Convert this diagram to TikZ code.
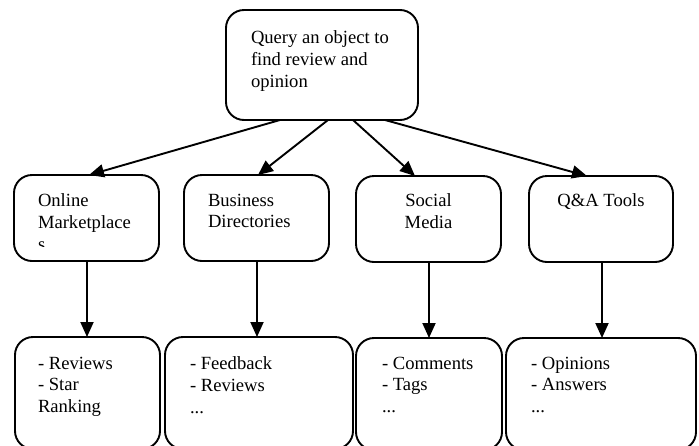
\documentclass[tikz,border=0pt]{standalone}
\usepackage{fontspec}
\setmainfont{Liberation Serif}
\usetikzlibrary{arrows.meta,calc}
\begin{document}
\begin{tikzpicture}[x=1pt,y=-1pt,
  box/.style={draw, line width=1.9pt, rounded corners=18pt, inner sep=0pt, outer sep=0pt, anchor=north west},
  txt/.style={inner sep=0pt, outer sep=0pt, align=left, anchor=north west, font=\fontsize{18.6}{21.6}\selectfont},
  ctxt/.style={txt, align=center, anchor=north},
  conn/.style={line width=1.9pt, -{Triangle[length=15pt,width=13pt]}}]
\useasboundingbox (0,0) rectangle (699,445);
\clip (0,0) rectangle (699,445);
% top
\node[box, minimum width=192pt, minimum height=110pt] (top) at (226,10) {};
\node[txt] (ttop) at (251,31) {Query an object to\\find review and\\opinion};
% middle row
\node[box, minimum width=145pt, minimum height=86pt] (m1) at (14,175) {};
\node[box, minimum width=145pt, minimum height=86pt] (m2) at (184,175) {};
\node[box, minimum width=145pt, minimum height=86pt] (m3) at (356,176) {};
\node[box, minimum width=144pt, minimum height=86pt] (m4) at (529,176) {};
\begin{scope}
\clip (20,180) rectangle (150,246);
\node[txt] (tm1) at (38,194) {Online\\Marketplace\\s};
\end{scope}
\node[txt] (tm2) at (208,194) {Business\\Directories};
\node[ctxt] (tm3) at (428.5,194) {Social\\Media};
\node[ctxt] (tm4) at (601,194) {Q\&A Tools};
% bottom row
\node[box, minimum width=145pt, minimum height=112pt] (b1) at (15,337) {};
\node[box, minimum width=188pt, minimum height=112pt] (b2) at (165,337) {};
\node[box, minimum width=146pt, minimum height=112pt] (b3) at (356,338) {};
\node[box, minimum width=190pt, minimum height=112pt] (b4) at (506,338) {};
\node[txt] (tb1) at (38,357) {- Reviews\\- Star\\Ranking};
\node[txt] (tb2) at (190,357) {- Feedback\\- Reviews\\...};
\node[txt] (tb3) at (382,357) {- Comments\\- Tags\\...};
\node[txt] (tb4) at (531,357) {- Opinions\\- Answers\\...};
% connectors from top
\coordinate (s1) at ($(top.south west)+(54,0)$);
\coordinate (s2) at ($(top.south west)+(102,0)$);
\coordinate (s3) at ($(top.south west)+(127,0)$);
\coordinate (s4) at ($(top.south west)+(159,0)$);
\coordinate (e1) at ($(m1.north west)+(75,0)$);
\coordinate (e2) at ($(m2.north west)+(74,0)$);
\coordinate (e3) at ($(m3.north west)+(59,0)$);
\coordinate (e4) at ($(m4.north west)+(58,0)$);
\draw[conn] (s1) -- (e1);
\draw[conn] (s2) -- (e2);
\draw[conn] (s3) -- (e3);
\draw[conn] (s4) -- (e4);
% vertical connectors
\coordinate (v1) at ($(m1.south)+(0.5,0)$);
\coordinate (v2) at ($(m2.south)+(0.5,0)$);
\coordinate (v3) at ($(m3.south)+(0.5,0)$);
\coordinate (v4) at ($(m4.south)+(1,0)$);
\draw[conn] (v1) -- (v1 |- b1.north);
\draw[conn] (v2) -- (v2 |- b2.north);
\draw[conn] (v3) -- (v3 |- b3.north);
\draw[conn] (v4) -- (v4 |- b4.north);
\end{tikzpicture}
\end{document}
